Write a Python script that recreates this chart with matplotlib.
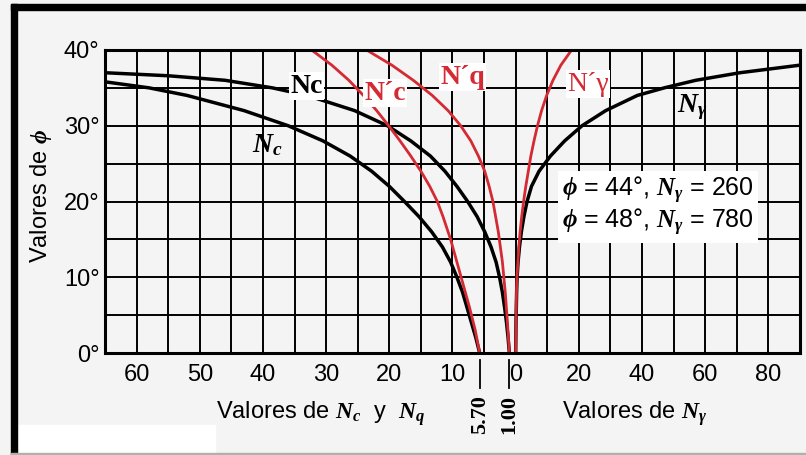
import numpy as np
import matplotlib
matplotlib.use("Agg")
import matplotlib.pyplot as plt
from matplotlib.patches import Rectangle

plt.rcParams['font.family'] = ['Liberation Sans Narrow', 'Liberation Sans', 'DejaVu Sans']
plt.rcParams['mathtext.fontset'] = 'custom'
plt.rcParams['mathtext.rm'] = 'Liberation Serif'
plt.rcParams['mathtext.it'] = 'Liberation Serif:italic:bold'
plt.rcParams['mathtext.bf'] = 'Liberation Serif:bold'

# valores (phi en grados)
nc_phi = [0, 2, 4, 6, 8, 10, 12, 14, 16, 18, 20, 22, 24, 26, 28, 30, 32, 34, 35, 35.8]
nc_val = [5.7, 6.3, 7.0, 7.7, 8.4, 9.3, 10.3, 11.6, 13.3, 15.3, 17.6, 20.0, 22.8, 26.2, 30.5, 36.0, 43.0, 52.0, 58.0, 65.0]

nq_phi = [0, 2, 4, 6, 8, 10, 12, 14, 16, 18, 20, 22, 24, 26, 28, 30, 32, 34, 35, 36, 36.6, 37]
nq_val = [1.0, 1.2, 1.45, 1.75, 2.1, 2.55, 3.1, 3.9, 4.9, 6.1, 7.6, 9.3, 11.2, 13.5, 16.6, 20.3, 25.5, 33.0, 38.5, 46.0, 55.0, 65.0]

ncp_phi = [0, 3, 6, 9, 12, 15, 18, 20, 22, 24, 26, 28, 30, 32, 34, 36, 38, 40]
ncp_val = [5.7, 6.4, 7.3, 8.3, 9.3, 10.3, 11.5, 12.4, 13.6, 15.0, 16.6, 18.3, 20.1, 22.0, 24.1, 26.4, 29.1, 32.3]

nqp_phi = [0, 4, 8, 12, 16, 20, 22, 24, 26, 28, 30, 32, 34, 36, 38, 40]
nqp_val = [1.0, 1.3, 1.65, 2.1, 2.75, 3.6, 4.2, 4.9, 5.9, 7.1, 8.7, 10.7, 13.2, 16.2, 19.6, 23.6]

ng_phi = [0, 4, 8, 10, 12, 14, 16, 18, 20, 22, 24, 26, 28, 30, 32, 34, 35, 36, 37, 38]
ng_val = [0, 0.1, 0.3, 0.45, 0.75, 1.2, 1.8, 2.6, 3.6, 5.0, 7.4, 11.0, 15.5, 21.0, 28.5, 38.5, 47.0, 57.0, 71.0, 90.0]

ngp_phi = [0, 4, 8, 10, 12, 14, 16, 18, 20, 22, 24, 26, 28, 30, 32, 34, 36, 38, 40]
ngp_val = [0, 0.1, 0.25, 0.4, 0.7, 1.0, 1.4, 1.9, 2.5, 3.2, 4.0, 4.8, 5.8, 6.9, 8.2, 9.8, 11.8, 14.3, 17.7]

left_ticks = [60, 50, 40, 30, 20, 10, 0]
right_ticks = [20, 40, 60, 80]
phi_ticks = [0, 10, 20, 30, 40]

# escala: a la izquierda Nc, Nq (hacia la izquierda), a la derecha Ngamma/2
def izq(v):
    return -np.asarray(v, dtype=float)

def der(v):
    return np.asarray(v, dtype=float) / 2.0

rojo = '#d42a33'
fondo = '#f4f4f4'

fig = plt.figure(figsize=(8.06, 4.55), dpi=100, facecolor=fondo)
ax = fig.add_axes([105/806, 1-353/455, 695/806, 303/455])
ax.set_facecolor(fondo)

ax.plot(izq(nc_val), nc_phi, color='black', lw=2.5, solid_capstyle='butt')
ax.plot(izq(nq_val), nq_phi, color='black', lw=2.5, solid_capstyle='butt')
ax.plot(der(ng_val), ng_phi, color='black', lw=2.5, solid_capstyle='butt')
ax.plot(izq(ncp_val), ncp_phi, color=rojo, lw=2.0, solid_capstyle='butt')
ax.plot(izq(nqp_val), nqp_phi, color=rojo, lw=2.0, solid_capstyle='butt')
ax.plot(der(ngp_val), ngp_phi, color=rojo, lw=2.0, solid_capstyle='butt')

ax.set_xlim(-65, 45)
ax.set_ylim(0, 40)
xt = list(izq(left_ticks)) + list(der(right_ticks))
ax.set_xticks(xt)
ax.set_xticklabels([str(v) for v in left_ticks + right_ticks])
ax.set_xticks(np.arange(-65, 46, 5), minor=True)
ax.set_yticks(phi_ticks)
ax.set_yticklabels([f'{v}°' for v in phi_ticks])
ax.set_yticks(np.arange(0, 41, 5), minor=True)
ax.grid(which='both', color='black', lw=1.4)
ax.tick_params(which='both', length=0, labelsize=17)
ax.tick_params(axis='x', pad=8)
ax.tick_params(axis='y', pad=4)
for s in ax.spines.values():
    s.set_linewidth(2.2)

ax.set_ylabel('Valores de $\\phi$', fontsize=17)
ax.yaxis.set_label_coords(-0.074, 0.52)

# etiquetas de eje x
ax.text(-30.9, -8.0, 'Valores de $N_c$  y  $N_q$', fontsize=17, ha='center', va='center', clip_on=False)
ax.text(18.9, -8.0, 'Valores de $N_\\gamma$', fontsize=17, ha='center', va='center', clip_on=False)

# marcas 5.70 y 1.00
for v, t in [(5.70, '5.70'), (1.00, '1.00')]:
    ax.plot([-v, -v], [-0.9, -4.6], color='black', lw=1.3, clip_on=False)
    ax.text(-v, -8.1, t, rotation=90, fontsize=16, fontweight='bold', family='Liberation Serif',
            ha='center', va='center', clip_on=False)

blanco = dict(facecolor='white', edgecolor='none', pad=1)
ax.text(-33.1, 35.2, 'Nc', family='Liberation Serif', fontweight='bold', fontsize=20,
        ha='center', va='center', bbox=blanco)
ax.text(-20.7, 34.3, 'N´c', family='Liberation Serif', fontweight='bold', fontsize=20, color=rojo,
        ha='center', va='center', bbox=blanco)
ax.text(-8.4, 36.4, 'N´q', family='Liberation Serif', fontweight='bold', fontsize=20, color=rojo,
        ha='center', va='center', bbox=blanco)
ax.text(11.4, 35.5, 'N´γ', family='Liberation Serif', fontsize=20, color=rojo,
        ha='center', va='center', bbox=blanco)
ax.text(27.9, 32.5, '$N_\\gamma$', fontsize=20, ha='center', va='center')
ax.text(-39.3, 27.5, '$N_c$', fontsize=20, ha='center', va='center')
ax.text(7.3, 19.3, '$\\phi$ = 44°, $N_\\gamma$ = 260\n$\\phi$ = 48°, $N_\\gamma$ = 780', fontsize=18,
        ha='left', va='center', linespacing=1.05,
        bbox=dict(facecolor='white', edgecolor='none', pad=3))

# marco de la imagen escaneada
fig.add_artist(Rectangle((11/806, 0), 6/806, 1-4/455, transform=fig.transFigure, color='black', zorder=10))
fig.add_artist(Rectangle((11/806, 1-10/455), 1, 6/455, transform=fig.transFigure, color='black', zorder=10))
fig.add_artist(Rectangle((17/806, 2/455), 198/806, 28/455, transform=fig.transFigure, color='white', zorder=0))
fig.add_artist(Rectangle((11/806, 0), 1, 2/455, transform=fig.transFigure, color='#b0b0b0', zorder=10))

fig.savefig('out.png', dpi=100, facecolor=fondo)
